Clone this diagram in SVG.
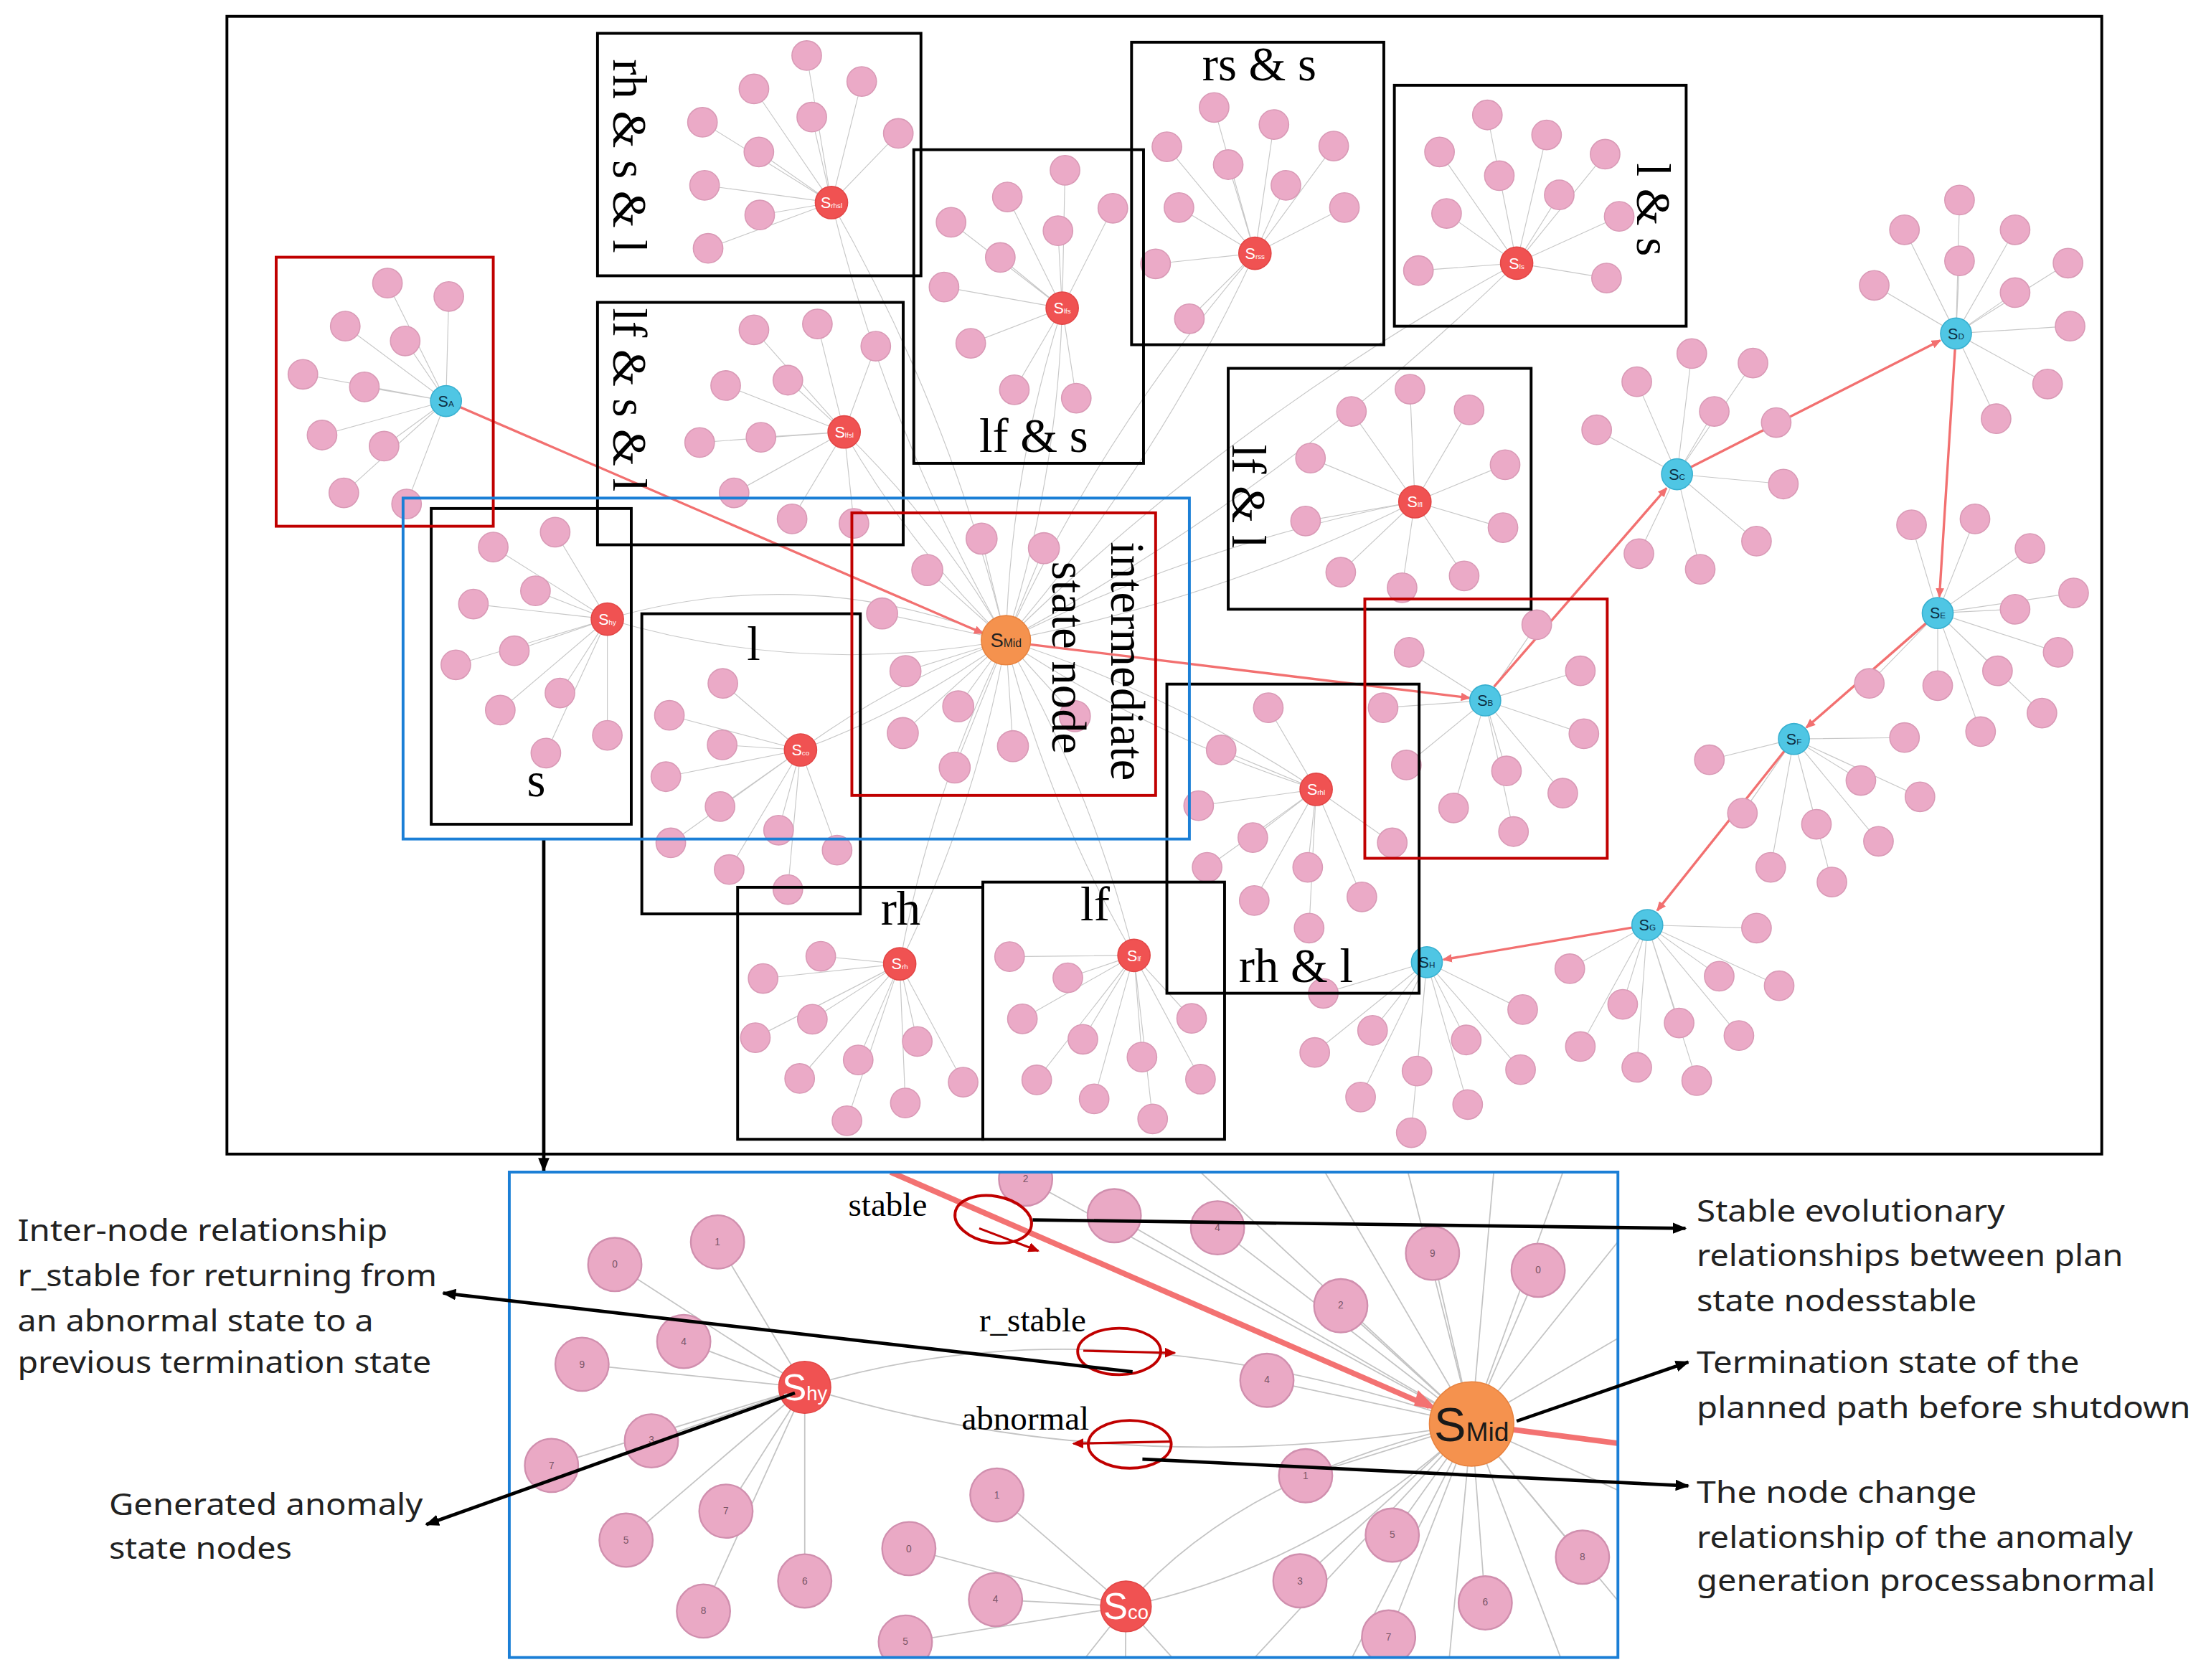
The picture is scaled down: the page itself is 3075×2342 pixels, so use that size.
<svg xmlns="http://www.w3.org/2000/svg" width="3075" height="2342" viewBox="0 0 3075 2342">
<style>
.sat{fill:#ebaac7;stroke:#d99ab6;stroke-width:0.8}
.bsat{fill:#eaa9c5;stroke:#d08fae;stroke-width:1.2}
.red{fill:#f05252;stroke:#e24646;stroke-width:0.8}
.cyan{fill:#4fc6e4;stroke:#38b0d0;stroke-width:0.8}
.org{fill:#f5924e;stroke:#e8823e;stroke-width:0.8}
.e{fill:none;stroke:#c8c8c8;stroke-width:0.6}
.be{fill:none;stroke:#c4c4c4;stroke-width:0.9}
.pth{fill:none;stroke:#f27070;stroke-width:1.7}
.bpth{fill:none;stroke:#f37272;stroke-width:4}
.box{fill:none;stroke:#000;stroke-width:2}
.rbox{fill:none;stroke:#c00000;stroke-width:2}
.bbox{fill:none;stroke:#1b7fd6;stroke-width:2}
.ell{fill:none;stroke:#c00000;stroke-width:2}
.rarr{fill:none;stroke:#c00000;stroke-width:1.6}
.ann{fill:none;stroke:#000;stroke-width:2.4}
.lab{font-family:"Liberation Serif","Times New Roman",serif;font-size:34px;fill:#000}
.elab{font-family:"Liberation Serif","Times New Roman",serif;font-size:24px;fill:#000}
.txt{font-family:"Noto Sans","Open Sans",sans-serif;font-size:21px;fill:#222}
.sl{font-family:"Liberation Sans",Arial,sans-serif;font-size:11px;fill:#fff;text-anchor:middle}
.cl{font-family:"Liberation Sans",Arial,sans-serif;font-size:11px;fill:#0d2f44;text-anchor:middle}
.num{font-family:"Liberation Sans",Arial,sans-serif;font-size:7px;fill:#7a5566;text-anchor:middle}
</style>
<defs>
<marker id="ah" markerUnits="userSpaceOnUse" markerWidth="10" markerHeight="8" refX="9" refY="4" orient="auto"><path d="M0,0 L10,4 L0,8 Z" fill="#000"/></marker>
<marker id="rh" markerUnits="userSpaceOnUse" markerWidth="7" markerHeight="6" refX="6" refY="3" orient="auto"><path d="M0,0 L7,3 L0,6 Z" fill="#f27070"/></marker>
<marker id="dr" markerUnits="userSpaceOnUse" markerWidth="8" markerHeight="7" refX="7" refY="3.5" orient="auto"><path d="M0,0 L8,3.5 L0,7 Z" fill="#c00000"/></marker>
<clipPath id="pc"><rect x="362" y="833" width="788" height="345"/></clipPath>
</defs>
<rect x="0" y="0" width="3075" height="2342" fill="#fff"/>
<g transform="scale(1.9611,1.9615)">

<g id="connectors">
<g id="star-edges">
<path class="e" d="M317 285L275.4 201.2M317 285L319 210.7M317 285L245.4 231.8M317 285L288 242.3M317 285L215.3 266M317 285L259 275M317 285L228.9 309.2M317 285L273 317.1M317 285L244.4 350.3M317 285L289 358.2"/>
<path class="e" d="M591 144L573.4 39.5M591 144L535.9 63.2M591 144L612.5 57.9M591 144L499.3 86.9M591 144L577 83.2M591 144L539.4 108M591 144L638.5 94.8M591 144L500.8 131.7M591 144L540 152.8M591 144L503.3 176.5"/>
<path class="e" d="M600 307L535.9 234.4M600 307L581 230.2M600 307L622.5 246M600 307L515.8 274M600 307L560 270.2M600 307L497.3 314.5M600 307L540.9 310.8M600 307L521.8 350.3M600 307L563 368.8M600 307L607 372"/>
<path class="e" d="M755 219L757 121M755 219L716 140M755 219L676 158M755 219L752 164M755 219L791 148M755 219L711 183M755 219L671 204M755 219L690 244M755 219L721 277M755 219L765 283"/>
<path class="e" d="M892 180L863 76.4M892 180L829.4 104.3M892 180L905.5 88.5M892 180L873 117M892 180L948 103.8M892 180L914 131.7M892 180L838 147.5M892 180L955.6 147.5M892 180L821.4 187.5M892 180L845.4 226.5"/>
<path class="e" d="M1078 187L1057.2 81.7M1078 187L1023.2 108M1078 187L1099.3 95.9M1078 187L1065.7 124.9M1078 187L1140.9 109.6M1078 187L1108.3 138.5M1078 187L1028.2 151.7M1078 187L1150.9 153.8M1078 187L1008.2 192.3M1078 187L1141.9 197.6"/>
<path class="e" d="M1005.7 356.6L1002.2 276.6M1005.7 356.6L960.6 292.4M1005.7 356.6L1044.2 291.3M1005.7 356.6L931.5 325.6M1005.7 356.6L1069.8 330.3M1005.7 356.6L928 370.3M1005.7 356.6L1068.3 375M1005.7 356.6L953 406.7M1005.7 356.6L996.6 417.7M1005.7 356.6L1040.7 409.3"/>
<path class="e" d="M431.7 440L350.6 388.8M431.7 440L394.6 378.2M431.7 440L336.5 429.3M431.7 440L380.6 419.9M431.7 440L324 472.5M431.7 440L365.6 462.5M431.7 440L355.6 504.7M431.7 440L398 492.5M431.7 440L388 535.2M431.7 440L431.7 522.6"/>
<path class="e" d="M569 533L513.8 485.7M569 533L475.8 508.4M569 533L513.3 529.4M569 533L473.3 552M569 533L511.8 573.2M569 533L476.8 599M569 533L553.4 590M569 533L595 604.2M569 533L518.3 618M569 533L560 632.2"/>
<path class="e" d="M715 455L697.7 382.8M715 455L742 389.6M715 455L659.1 405.1M715 455L627 436M715 455L643.6 477M715 455L681.1 502M715 455L641.7 521M715 455L720 530.3M715 455L678.6 545.5M715 455L764 509"/>
<path class="e" d="M639.5 685L583.4 679.6M639.5 685L542.4 695.4M639.5 685L577.4 724.4M639.5 685L536.9 737.5M639.5 685L610 753.3M639.5 685L568.4 766.5M639.5 685L652 740.2M639.5 685L684.6 769.1M639.5 685L643.5 783.9M639.5 685L602 796.5"/>
<path class="e" d="M806 679L717.6 679.9M806 679L759 694.9M806 679L726.7 724.1M806 679L769.7 738.6M806 679L847 723.8M806 679L736.9 767.5M806 679L811.7 751.3M806 679L853.3 767M806 679L777.7 781M806 679L819.3 795.2"/>
<path class="e" d="M935.5 561L901.5 503M935.5 561L868 533M935.5 561L852 572.6M935.5 561L890.5 595.3M935.5 561L858 616.4M935.5 561L891.5 640M935.5 561L929.5 616.4M935.5 561L930.5 659.6M935.5 561L968 637.4M935.5 561L989.6 599"/>
<path class="e" d="M1055.7 497.8L1092.3 444M1055.7 497.8L1001.6 463.6M1055.7 497.8L1123.3 476.8M1055.7 497.8L983.1 503M1055.7 497.8L1125.8 521.5M1055.7 497.8L999.6 543.7M1055.7 497.8L1070.8 547.9M1055.7 497.8L1110.8 563.7M1055.7 497.8L1033.2 574.2M1055.7 497.8L1075.8 591"/>
<path class="e" d="M1192 337L1202.5 251.3M1192 337L1246 258M1192 337L1163.4 271.3M1192 337L1218.5 292.4M1192 337L1134.9 305.5M1192 337L1262.5 300.3M1192 337L1267.6 344M1192 337L1248.5 384.6M1192 337L1164.9 393.5M1192 337L1208.5 404.6"/>
<path class="e" d="M1390.3 237L1392.8 142.2M1390.3 237L1353.7 163.3M1390.3 237L1432.3 163.3M1390.3 237L1392.8 185.4M1390.3 237L1469.9 187M1390.3 237L1332.2 202.8M1390.3 237L1432.3 208M1390.3 237L1471.4 231.8M1390.3 237L1455.4 272.9M1390.3 237L1418.8 297.6"/>
<path class="e" d="M1377.3 435.7L1358.7 373M1377.3 435.7L1403.8 368.8M1377.3 435.7L1442.9 389.8M1377.3 435.7L1473.9 421.4M1377.3 435.7L1432.3 433M1377.3 435.7L1462.9 463.6M1377.3 435.7L1419.8 476.8M1377.3 435.7L1377.3 487.3M1377.3 435.7L1451.4 506.8M1377.3 435.7L1407.8 520M1377.3 435.7L1328.7 485.7"/>
<path class="e" d="M1275.1 525.2L1215 540M1275.1 525.2L1353.7 524.2M1275.1 525.2L1322.7 554.7M1275.1 525.2L1364.7 566.3M1275.1 525.2L1291.1 585.8M1275.1 525.2L1335.2 597.9M1275.1 525.2L1258.6 616.4M1275.1 525.2L1302.1 626.9M1275.1 525.2L1238.5 577.9"/>
<path class="e" d="M1170.9 657.4L1248.5 659.6M1170.9 657.4L1115.8 688.5M1170.9 657.4L1222 693.8M1170.9 657.4L1264.6 700.6M1170.9 657.4L1153.4 713.8M1170.9 657.4L1193.5 727M1170.9 657.4L1236 736M1170.9 657.4L1123.3 743.8M1170.9 657.4L1163.4 758.6M1170.9 657.4L1206 768"/>
<path class="e" d="M1014.2 683.8L940.6 706M1014.2 683.8L1082.3 717.5M1014.2 683.8L975.6 732.3M1014.2 683.8L1042.2 739.1M1014.2 683.8L1080.8 760.2M1014.2 683.8L934.5 748M1014.2 683.8L1007.2 761.2M1014.2 683.8L967.1 779.7M1014.2 683.8L1043.2 785M1014.2 683.8L1003.1 805"/>
</g>
<g id="mid-edges">
<path class="e" d="M591 144Q631.2 308.2 715 455M591 144Q674.8 290.8 715 455"/>
<path class="e" d="M600 307Q647.1 389.1 715 455M600 307Q667.9 372.9 715 455"/>
<path class="e" d="M755 219Q718.5 334.2 715 455M755 219Q751.5 339.8 715 455"/>
<path class="e" d="M892 180Q784.2 305.1 715 455M892 180Q822.8 329.9 715 455"/>
<path class="e" d="M1078 187Q877.7 295.6 715 455M1078 187Q915.3 346.4 715 455"/>
<path class="e" d="M1005.7 356.6Q853.5 385.5 715 455M1005.7 356.6Q867.3 426.1 715 455"/>
<path class="e" d="M431.7 440Q571.6 481.5 715 455M431.7 440Q575.2 398.5 715 455"/>
<path class="e" d="M569 533Q647.5 504.2 715 455M569 533Q636.5 483.8 715 455"/>
<path class="e" d="M639.5 685Q693.4 575.3 715 455M639.5 685Q661.2 564.7 715 455"/>
<path class="e" d="M806 679Q776.2 560.6 715 455M806 679Q744.8 573.4 715 455"/>
<path class="e" d="M935.5 561Q832.7 492.6 715 455M935.5 561Q817.9 523.4 715 455"/>
</g>
<g id="plan-path">
<path class="pth" marker-end="url(#rh)" d="M317 285L698.5 450"/>
<path class="pth" marker-end="url(#rh)" d="M732 458L1044.5 496"/>
<path class="pth" marker-end="url(#rh)" d="M1062 488L1184.5 347"/>
<path class="pth" marker-end="url(#rh)" d="M1192 337L1379 242"/>
<path class="pth" marker-end="url(#rh)" d="M1390.3 237L1378.5 424"/>
<path class="pth" marker-end="url(#rh)" d="M1377.3 435.7L1284 517"/>
<path class="pth" marker-end="url(#rh)" d="M1275.1 525.2L1178 647"/>
<path class="pth" marker-end="url(#rh)" d="M1170.9 657.4L1026 682"/>
</g>
<path id="zoom-link" class="ann" marker-end="url(#ah)" d="M386.5 596.3L386.5 832"/>
</g>

<g id="node-Sa">
<circle class="sat" cx="275.4" cy="201.2" r="10.5"/><circle class="sat" cx="319" cy="210.7" r="10.5"/><circle class="sat" cx="245.4" cy="231.8" r="10.5"/><circle class="sat" cx="288" cy="242.3" r="10.5"/><circle class="sat" cx="215.3" cy="266" r="10.5"/><circle class="sat" cx="259" cy="275" r="10.5"/><circle class="sat" cx="228.9" cy="309.2" r="10.5"/><circle class="sat" cx="273" cy="317.1" r="10.5"/><circle class="sat" cx="244.4" cy="350.3" r="10.5"/><circle class="sat" cx="289" cy="358.2" r="10.5"/>
<circle class="cyan" cx="317" cy="285" r="11"/><text class="cl" x="317" y="289">S<tspan font-size="6">A</tspan></text>
</g>
<g id="node-Srhsl">
<circle class="sat" cx="573.4" cy="39.5" r="10.5"/><circle class="sat" cx="535.9" cy="63.2" r="10.5"/><circle class="sat" cx="612.5" cy="57.9" r="10.5"/><circle class="sat" cx="499.3" cy="86.9" r="10.5"/><circle class="sat" cx="577" cy="83.2" r="10.5"/><circle class="sat" cx="539.4" cy="108" r="10.5"/><circle class="sat" cx="638.5" cy="94.8" r="10.5"/><circle class="sat" cx="500.8" cy="131.7" r="10.5"/><circle class="sat" cx="540" cy="152.8" r="10.5"/><circle class="sat" cx="503.3" cy="176.5" r="10.5"/>
<circle class="red" cx="591" cy="144" r="11.5"/><text class="sl" x="591" y="148">S<tspan font-size="5">rhsl</tspan></text>
</g>
<g id="node-Slfsl">
<circle class="sat" cx="535.9" cy="234.4" r="10.5"/><circle class="sat" cx="581" cy="230.2" r="10.5"/><circle class="sat" cx="622.5" cy="246" r="10.5"/><circle class="sat" cx="515.8" cy="274" r="10.5"/><circle class="sat" cx="560" cy="270.2" r="10.5"/><circle class="sat" cx="497.3" cy="314.5" r="10.5"/><circle class="sat" cx="540.9" cy="310.8" r="10.5"/><circle class="sat" cx="521.8" cy="350.3" r="10.5"/><circle class="sat" cx="563" cy="368.8" r="10.5"/><circle class="sat" cx="607" cy="372" r="10.5"/>
<circle class="red" cx="600" cy="307" r="11.5"/><text class="sl" x="600" y="311">S<tspan font-size="5">lfsl</tspan></text>
</g>
<g id="node-Slfs">
<circle class="sat" cx="757" cy="121" r="10.5"/><circle class="sat" cx="716" cy="140" r="10.5"/><circle class="sat" cx="676" cy="158" r="10.5"/><circle class="sat" cx="752" cy="164" r="10.5"/><circle class="sat" cx="791" cy="148" r="10.5"/><circle class="sat" cx="711" cy="183" r="10.5"/><circle class="sat" cx="671" cy="204" r="10.5"/><circle class="sat" cx="690" cy="244" r="10.5"/><circle class="sat" cx="721" cy="277" r="10.5"/><circle class="sat" cx="765" cy="283" r="10.5"/>
<circle class="red" cx="755" cy="219" r="11.5"/><text class="sl" x="755" y="223">S<tspan font-size="5">lfs</tspan></text>
</g>
<g id="node-Srss">
<circle class="sat" cx="863" cy="76.4" r="10.5"/><circle class="sat" cx="829.4" cy="104.3" r="10.5"/><circle class="sat" cx="905.5" cy="88.5" r="10.5"/><circle class="sat" cx="873" cy="117" r="10.5"/><circle class="sat" cx="948" cy="103.8" r="10.5"/><circle class="sat" cx="914" cy="131.7" r="10.5"/><circle class="sat" cx="838" cy="147.5" r="10.5"/><circle class="sat" cx="955.6" cy="147.5" r="10.5"/><circle class="sat" cx="821.4" cy="187.5" r="10.5"/><circle class="sat" cx="845.4" cy="226.5" r="10.5"/>
<circle class="red" cx="892" cy="180" r="11.5"/><text class="sl" x="892" y="184">S<tspan font-size="5">rss</tspan></text>
</g>
<g id="node-Sls">
<circle class="sat" cx="1057.2" cy="81.7" r="10.5"/><circle class="sat" cx="1023.2" cy="108" r="10.5"/><circle class="sat" cx="1099.3" cy="95.9" r="10.5"/><circle class="sat" cx="1065.7" cy="124.9" r="10.5"/><circle class="sat" cx="1140.9" cy="109.6" r="10.5"/><circle class="sat" cx="1108.3" cy="138.5" r="10.5"/><circle class="sat" cx="1028.2" cy="151.7" r="10.5"/><circle class="sat" cx="1150.9" cy="153.8" r="10.5"/><circle class="sat" cx="1008.2" cy="192.3" r="10.5"/><circle class="sat" cx="1141.9" cy="197.6" r="10.5"/>
<circle class="red" cx="1078" cy="187" r="11.5"/><text class="sl" x="1078" y="191">S<tspan font-size="5">ls</tspan></text>
</g>
<g id="node-Slfl">
<circle class="sat" cx="1002.2" cy="276.6" r="10.5"/><circle class="sat" cx="960.6" cy="292.4" r="10.5"/><circle class="sat" cx="1044.2" cy="291.3" r="10.5"/><circle class="sat" cx="931.5" cy="325.6" r="10.5"/><circle class="sat" cx="1069.8" cy="330.3" r="10.5"/><circle class="sat" cx="928" cy="370.3" r="10.5"/><circle class="sat" cx="1068.3" cy="375" r="10.5"/><circle class="sat" cx="953" cy="406.7" r="10.5"/><circle class="sat" cx="996.6" cy="417.7" r="10.5"/><circle class="sat" cx="1040.7" cy="409.3" r="10.5"/>
<circle class="red" cx="1005.7" cy="356.6" r="11.5"/><text class="sl" x="1005.7" y="360.6">S<tspan font-size="5">lfl</tspan></text>
</g>
<g id="node-Shy">
<circle class="sat" cx="350.6" cy="388.8" r="10.5"/><circle class="sat" cx="394.6" cy="378.2" r="10.5"/><circle class="sat" cx="336.5" cy="429.3" r="10.5"/><circle class="sat" cx="380.6" cy="419.9" r="10.5"/><circle class="sat" cx="324" cy="472.5" r="10.5"/><circle class="sat" cx="365.6" cy="462.5" r="10.5"/><circle class="sat" cx="355.6" cy="504.7" r="10.5"/><circle class="sat" cx="398" cy="492.5" r="10.5"/><circle class="sat" cx="388" cy="535.2" r="10.5"/><circle class="sat" cx="431.7" cy="522.6" r="10.5"/>
<circle class="red" cx="431.7" cy="440" r="11.5"/><text class="sl" x="431.7" y="444">S<tspan font-size="5">hy</tspan></text>
</g>
<g id="node-Sco">
<circle class="sat" cx="513.8" cy="485.7" r="10.5"/><circle class="sat" cx="475.8" cy="508.4" r="10.5"/><circle class="sat" cx="513.3" cy="529.4" r="10.5"/><circle class="sat" cx="473.3" cy="552" r="10.5"/><circle class="sat" cx="511.8" cy="573.2" r="10.5"/><circle class="sat" cx="476.8" cy="599" r="10.5"/><circle class="sat" cx="553.4" cy="590" r="10.5"/><circle class="sat" cx="595" cy="604.2" r="10.5"/><circle class="sat" cx="518.3" cy="618" r="10.5"/><circle class="sat" cx="560" cy="632.2" r="10.5"/>
<circle class="red" cx="569" cy="533" r="11.5"/><text class="sl" x="569" y="537">S<tspan font-size="5">co</tspan></text>
</g>
<g id="node-SMid">
<circle class="sat" cx="697.7" cy="382.8" r="11"/><circle class="sat" cx="742" cy="389.6" r="11"/><circle class="sat" cx="659.1" cy="405.1" r="11"/><circle class="sat" cx="627" cy="436" r="11"/><circle class="sat" cx="643.6" cy="477" r="11"/><circle class="sat" cx="681.1" cy="502" r="11"/><circle class="sat" cx="641.7" cy="521" r="11"/><circle class="sat" cx="720" cy="530.3" r="11"/><circle class="sat" cx="678.6" cy="545.5" r="11"/><circle class="sat" cx="764" cy="509" r="11"/>
<circle class="org" cx="715" cy="455" r="17.5"/><text class="cl" x="715" y="460" style="font-size:14px;fill:#222">S<tspan style="font-size:8px">Mid</tspan></text>
</g>
<g id="node-Srh">
<circle class="sat" cx="583.4" cy="679.6" r="10.5"/><circle class="sat" cx="542.4" cy="695.4" r="10.5"/><circle class="sat" cx="577.4" cy="724.4" r="10.5"/><circle class="sat" cx="536.9" cy="737.5" r="10.5"/><circle class="sat" cx="610" cy="753.3" r="10.5"/><circle class="sat" cx="568.4" cy="766.5" r="10.5"/><circle class="sat" cx="652" cy="740.2" r="10.5"/><circle class="sat" cx="684.6" cy="769.1" r="10.5"/><circle class="sat" cx="643.5" cy="783.9" r="10.5"/><circle class="sat" cx="602" cy="796.5" r="10.5"/>
<circle class="red" cx="639.5" cy="685" r="11.5"/><text class="sl" x="639.5" y="689">S<tspan font-size="5">rh</tspan></text>
</g>
<g id="node-Slf">
<circle class="sat" cx="717.6" cy="679.9" r="10.5"/><circle class="sat" cx="759" cy="694.9" r="10.5"/><circle class="sat" cx="726.7" cy="724.1" r="10.5"/><circle class="sat" cx="769.7" cy="738.6" r="10.5"/><circle class="sat" cx="847" cy="723.8" r="10.5"/><circle class="sat" cx="736.9" cy="767.5" r="10.5"/><circle class="sat" cx="811.7" cy="751.3" r="10.5"/><circle class="sat" cx="853.3" cy="767" r="10.5"/><circle class="sat" cx="777.7" cy="781" r="10.5"/><circle class="sat" cx="819.3" cy="795.2" r="10.5"/>
<circle class="red" cx="806" cy="679" r="11.5"/><text class="sl" x="806" y="683">S<tspan font-size="5">lf</tspan></text>
</g>
<g id="node-Srhl">
<circle class="sat" cx="901.5" cy="503" r="10.5"/><circle class="sat" cx="868" cy="533" r="10.5"/><circle class="sat" cx="852" cy="572.6" r="10.5"/><circle class="sat" cx="890.5" cy="595.3" r="10.5"/><circle class="sat" cx="858" cy="616.4" r="10.5"/><circle class="sat" cx="891.5" cy="640" r="10.5"/><circle class="sat" cx="929.5" cy="616.4" r="10.5"/><circle class="sat" cx="930.5" cy="659.6" r="10.5"/><circle class="sat" cx="968" cy="637.4" r="10.5"/><circle class="sat" cx="989.6" cy="599" r="10.5"/>
<circle class="red" cx="935.5" cy="561" r="11.5"/><text class="sl" x="935.5" y="565">S<tspan font-size="5">rhl</tspan></text>
</g>
<g id="node-Sb">
<circle class="sat" cx="1092.3" cy="444" r="10.5"/><circle class="sat" cx="1001.6" cy="463.6" r="10.5"/><circle class="sat" cx="1123.3" cy="476.8" r="10.5"/><circle class="sat" cx="983.1" cy="503" r="10.5"/><circle class="sat" cx="1125.8" cy="521.5" r="10.5"/><circle class="sat" cx="999.6" cy="543.7" r="10.5"/><circle class="sat" cx="1070.8" cy="547.9" r="10.5"/><circle class="sat" cx="1110.8" cy="563.7" r="10.5"/><circle class="sat" cx="1033.2" cy="574.2" r="10.5"/><circle class="sat" cx="1075.8" cy="591" r="10.5"/>
<circle class="cyan" cx="1055.7" cy="497.8" r="11"/><text class="cl" x="1055.7" y="501.8">S<tspan font-size="6">B</tspan></text>
</g>
<g id="node-Sc">
<circle class="sat" cx="1202.5" cy="251.3" r="10.5"/><circle class="sat" cx="1246" cy="258" r="10.5"/><circle class="sat" cx="1163.4" cy="271.3" r="10.5"/><circle class="sat" cx="1218.5" cy="292.4" r="10.5"/><circle class="sat" cx="1134.9" cy="305.5" r="10.5"/><circle class="sat" cx="1262.5" cy="300.3" r="10.5"/><circle class="sat" cx="1267.6" cy="344" r="10.5"/><circle class="sat" cx="1248.5" cy="384.6" r="10.5"/><circle class="sat" cx="1164.9" cy="393.5" r="10.5"/><circle class="sat" cx="1208.5" cy="404.6" r="10.5"/>
<circle class="cyan" cx="1192" cy="337" r="11"/><text class="cl" x="1192" y="341">S<tspan font-size="6">C</tspan></text>
</g>
<g id="node-Sd">
<circle class="sat" cx="1392.8" cy="142.2" r="10.5"/><circle class="sat" cx="1353.7" cy="163.3" r="10.5"/><circle class="sat" cx="1432.3" cy="163.3" r="10.5"/><circle class="sat" cx="1392.8" cy="185.4" r="10.5"/><circle class="sat" cx="1469.9" cy="187" r="10.5"/><circle class="sat" cx="1332.2" cy="202.8" r="10.5"/><circle class="sat" cx="1432.3" cy="208" r="10.5"/><circle class="sat" cx="1471.4" cy="231.8" r="10.5"/><circle class="sat" cx="1455.4" cy="272.9" r="10.5"/><circle class="sat" cx="1418.8" cy="297.6" r="10.5"/>
<circle class="cyan" cx="1390.3" cy="237" r="11"/><text class="cl" x="1390.3" y="241">S<tspan font-size="6">D</tspan></text>
</g>
<g id="node-Se">
<circle class="sat" cx="1358.7" cy="373" r="10.5"/><circle class="sat" cx="1403.8" cy="368.8" r="10.5"/><circle class="sat" cx="1442.9" cy="389.8" r="10.5"/><circle class="sat" cx="1473.9" cy="421.4" r="10.5"/><circle class="sat" cx="1432.3" cy="433" r="10.5"/><circle class="sat" cx="1462.9" cy="463.6" r="10.5"/><circle class="sat" cx="1419.8" cy="476.8" r="10.5"/><circle class="sat" cx="1377.3" cy="487.3" r="10.5"/><circle class="sat" cx="1451.4" cy="506.8" r="10.5"/><circle class="sat" cx="1407.8" cy="520" r="10.5"/><circle class="sat" cx="1328.7" cy="485.7" r="10.5"/>
<circle class="cyan" cx="1377.3" cy="435.7" r="11"/><text class="cl" x="1377.3" y="439.7">S<tspan font-size="6">E</tspan></text>
</g>
<g id="node-Sf">
<circle class="sat" cx="1215" cy="540" r="10.5"/><circle class="sat" cx="1353.7" cy="524.2" r="10.5"/><circle class="sat" cx="1322.7" cy="554.7" r="10.5"/><circle class="sat" cx="1364.7" cy="566.3" r="10.5"/><circle class="sat" cx="1291.1" cy="585.8" r="10.5"/><circle class="sat" cx="1335.2" cy="597.9" r="10.5"/><circle class="sat" cx="1258.6" cy="616.4" r="10.5"/><circle class="sat" cx="1302.1" cy="626.9" r="10.5"/><circle class="sat" cx="1238.5" cy="577.9" r="10.5"/>
<circle class="cyan" cx="1275.1" cy="525.2" r="11"/><text class="cl" x="1275.1" y="529.2">S<tspan font-size="6">F</tspan></text>
</g>
<g id="node-Sg">
<circle class="sat" cx="1248.5" cy="659.6" r="10.5"/><circle class="sat" cx="1115.8" cy="688.5" r="10.5"/><circle class="sat" cx="1222" cy="693.8" r="10.5"/><circle class="sat" cx="1264.6" cy="700.6" r="10.5"/><circle class="sat" cx="1153.4" cy="713.8" r="10.5"/><circle class="sat" cx="1193.5" cy="727" r="10.5"/><circle class="sat" cx="1236" cy="736" r="10.5"/><circle class="sat" cx="1123.3" cy="743.8" r="10.5"/><circle class="sat" cx="1163.4" cy="758.6" r="10.5"/><circle class="sat" cx="1206" cy="768" r="10.5"/>
<circle class="cyan" cx="1170.9" cy="657.4" r="11"/><text class="cl" x="1170.9" y="661.4">S<tspan font-size="6">G</tspan></text>
</g>
<g id="node-Sh">
<circle class="sat" cx="940.6" cy="706" r="10.5"/><circle class="sat" cx="1082.3" cy="717.5" r="10.5"/><circle class="sat" cx="975.6" cy="732.3" r="10.5"/><circle class="sat" cx="1042.2" cy="739.1" r="10.5"/><circle class="sat" cx="1080.8" cy="760.2" r="10.5"/><circle class="sat" cx="934.5" cy="748" r="10.5"/><circle class="sat" cx="1007.2" cy="761.2" r="10.5"/><circle class="sat" cx="967.1" cy="779.7" r="10.5"/><circle class="sat" cx="1043.2" cy="785" r="10.5"/><circle class="sat" cx="1003.1" cy="805" r="10.5"/>
<circle class="cyan" cx="1014.2" cy="683.8" r="11"/><text class="cl" x="1014.2" y="687.8">S<tspan font-size="6">H</tspan></text>
</g>

<g id="frames">
<rect class="box" x="161.3" y="11.6" width="1332.6" height="808.6"/>
<rect class="box" x="424.7" y="23.7" width="229.9" height="172.3"/>
<rect class="box" x="424.7" y="214.9" width="217.3" height="172.3"/>
<rect class="box" x="649.5" y="106.4" width="163.3" height="222.9"/>
<rect class="box" x="804.3" y="30" width="179.3" height="215"/>
<rect class="box" x="991.1" y="60.6" width="207.4" height="171.2"/>
<rect class="box" x="873" y="261.8" width="215.3" height="171.2"/>
<rect class="box" x="306.5" y="361.4" width="142.2" height="224.4"/>
<rect class="box" x="456.2" y="436.2" width="155.3" height="213.3"/>
<rect class="box" x="524.3" y="630.6" width="174.3" height="179.1"/>
<rect class="box" x="698.6" y="626.9" width="171.8" height="182.8"/>
<rect class="box" x="829.4" y="486.2" width="179.3" height="219.7"/>
<rect class="rbox" x="196.3" y="182.8" width="154.3" height="191.2"/>
<rect class="rbox" x="605.5" y="364.5" width="215.9" height="200.8"/>
<rect class="rbox" x="970.1" y="425.7" width="172.3" height="184.3"/>
<rect class="bbox" x="286.5" y="354" width="558.9" height="242.3"/>
</g>
<g id="frame-labels">
<text class="lab" transform="translate(436,42) rotate(90)">rh &amp; s &amp; l</text>
<text class="lab" transform="translate(436,219) rotate(90)">lf &amp; s &amp; l</text>
<text class="lab" x="696" y="321">lf &amp; s</text>
<text class="lab" x="854.5" y="57">rs &amp; s</text>
<text class="lab" transform="translate(1163.5,116) rotate(90)">l &amp; s</text>
<text class="lab" transform="translate(876,316) rotate(90)">lf &amp; l</text>
<text class="lab" x="374.5" y="566">s</text>
<text class="lab" x="531" y="469">l</text>
<text class="lab" x="626" y="657">rh</text>
<text class="lab" x="768" y="654">lf</text>
<text class="lab" x="880.5" y="698">rh &amp; l</text>
<text class="lab" transform="translate(790,385) rotate(90)">intermediate</text>
<text class="lab" transform="translate(748,399) rotate(90)">state node</text>
</g>

<g id="zoom-panel">
<rect x="362" y="833" width="788" height="345" fill="#fff"/>
<g clip-path="url(#pc)">
<g id="panel-edges">
<path class="be" d="M572 986L437 898.7M572 986L510 882.7M572 986L486 953.4M572 986L413.7 969.6M572 986L463 1024M572 986L392 1041.5M572 986L516 1074M572 986L445 1094.6M572 986L572 1123.6M572 986L500 1145"/>
<path class="be" d="M800.3 1141.7L708.6 1062.5M800.3 1141.7L646 1100.6M800.3 1141.7L707.6 1136.8M800.3 1141.7L643.5 1167M800.3 1141.7L770 1180M800.3 1141.7L800 1180M800.3 1141.7L835 1180"/>
<path class="be" d="M1046 1012L729 838M1046 1012L792 864M1046 1012L865.4 872.6M1046 1012L1018.2 890.7M1046 1012L1093.3 902.8M1046 1012L953 928M1046 1012L900.5 981M1046 1012L928 1048.8M1046 1012L989.6 1091M1046 1012L924 1123.5M1046 1012L987 1163.4M1046 1012L1055.7 1139.2M1046 1012L1124.8 1106.7"/>
<path class="be" d="M1046 1012L850 830M1046 1012L940 830M1046 1012L1000 830M1046 1012L1062 830M1046 1012L1112 830M1046 1012L1152 880M1046 1012L1152 950M1046 1012L1152 1060M1046 1012L1152 1140M1046 1012L1110 1180M1046 1012L1030 1180M1046 1012L960 1180M1046 1012L890 1180"/>
<path class="be" d="M572 986Q781 921 1046 1012M572 986Q797 1055 1046 1012M800.3 1141.7Q883 1047 1046 1012M800.3 1141.7Q937 1113 1046 1012"/>
</g>
<path class="bpth" d="M633 833L1016 999.5"/>
<path d="M1008 988 L1022 1002 L1005 999 Z" fill="#f37272"/>
<path class="bpth" d="M1075 1016L1152 1026"/>
<g id="panel-nodes">
<circle class="bsat" cx="729" cy="838" r="19"/><text class="num" x="729" y="840">2</text>
<circle class="bsat" cx="792" cy="864" r="19"/>
<circle class="bsat" cx="865.4" cy="872.6" r="19"/><text class="num" x="865.4" y="875">4</text>
<circle class="bsat" cx="1018.2" cy="890.7" r="19"/><text class="num" x="1018.2" y="893">9</text>
<circle class="bsat" cx="1093.3" cy="902.8" r="19"/><text class="num" x="1093.3" y="905">0</text>
<circle class="bsat" cx="953" cy="928" r="19"/><text class="num" x="953" y="930">2</text>
<circle class="bsat" cx="900.5" cy="981" r="19"/><text class="num" x="900.5" y="983">4</text>
<circle class="bsat" cx="928" cy="1048.8" r="19"/><text class="num" x="928" y="1051">1</text>
<circle class="bsat" cx="989.6" cy="1091" r="19"/><text class="num" x="989.6" y="1093">5</text>
<circle class="bsat" cx="924" cy="1123.5" r="19"/><text class="num" x="924" y="1126">3</text>
<circle class="bsat" cx="987" cy="1163.4" r="19"/><text class="num" x="987" y="1166">7</text>
<circle class="bsat" cx="1055.7" cy="1139.2" r="19"/><text class="num" x="1055.7" y="1141">6</text>
<circle class="bsat" cx="1124.8" cy="1106.7" r="19"/><text class="num" x="1124.8" y="1109">8</text>
<circle class="bsat" cx="437" cy="898.7" r="19"/><text class="num" x="437" y="901">0</text>
<circle class="bsat" cx="510" cy="882.7" r="19"/><text class="num" x="510" y="885">1</text>
<circle class="bsat" cx="486" cy="953.4" r="19"/><text class="num" x="486" y="956">4</text>
<circle class="bsat" cx="413.7" cy="969.6" r="19"/><text class="num" x="413.7" y="972">9</text>
<circle class="bsat" cx="463" cy="1024" r="19"/><text class="num" x="463" y="1026">3</text>
<circle class="bsat" cx="392" cy="1041.5" r="19"/><text class="num" x="392" y="1044">7</text>
<circle class="bsat" cx="516" cy="1074" r="19"/><text class="num" x="516" y="1076">7</text>
<circle class="bsat" cx="445" cy="1094.6" r="19"/><text class="num" x="445" y="1097">5</text>
<circle class="bsat" cx="572" cy="1123.6" r="19"/><text class="num" x="572" y="1126">6</text>
<circle class="bsat" cx="500" cy="1145" r="19"/><text class="num" x="500" y="1147">8</text>
<circle class="bsat" cx="708.6" cy="1062.5" r="19"/><text class="num" x="708.6" y="1065">1</text>
<circle class="bsat" cx="646" cy="1100.6" r="19"/><text class="num" x="646" y="1103">0</text>
<circle class="bsat" cx="707.6" cy="1136.8" r="19"/><text class="num" x="707.6" y="1139">4</text>
<circle class="bsat" cx="643.5" cy="1167" r="19"/><text class="num" x="643.5" y="1169">5</text>
<circle class="red" cx="572" cy="986" r="18.5"/><text class="sl" x="572" y="995" style="font-size:26px">S<tspan style="font-size:14px">hy</tspan></text>
<circle class="red" cx="800.3" cy="1141.7" r="18"/><text class="sl" x="800.3" y="1150.5" style="font-size:26px">S<tspan style="font-size:14px">co</tspan></text>
<circle class="org" cx="1046" cy="1012" r="30"/><text class="cl" x="1046" y="1024" style="font-size:34px;fill:#1a1a1a">S<tspan style="font-size:19px">Mid</tspan></text>
</g>
</g>
<rect class="bbox" x="362" y="833" width="788" height="345"/>
<ellipse class="ell" cx="706" cy="866.6" rx="27.5" ry="16.5" transform="rotate(10 706 866.6)"/>
<path class="rarr" marker-end="url(#dr)" d="M696 873L738 889"/>
<ellipse class="ell" cx="795.5" cy="960.5" rx="29.5" ry="16.5"/>
<path class="rarr" marker-end="url(#dr)" d="M770 960L835 961.5"/>
<ellipse class="ell" cx="803" cy="1026.5" rx="29.5" ry="17"/>
<path class="rarr" marker-end="url(#dr)" d="M832 1024.5L763 1026"/>
<text class="elab" x="603" y="864">stable</text>
<text class="elab" x="696" y="946">r_stable</text>
<text class="elab" x="683.5" y="1016">abnormal</text>
</g>

<g id="annotation-arrows">
<path class="ann" marker-end="url(#ah)" d="M734 867L1198 873"/>
<path class="ann" marker-end="url(#ah)" d="M805 975L315 919"/>
<path class="ann" marker-end="url(#ah)" d="M565 990L303 1083.5"/>
<path class="ann" marker-end="url(#ah)" d="M1078 1010L1200 968"/>
<path class="ann" marker-end="url(#ah)" d="M812 1037L1200 1056"/>
</g>
<g id="annotation-texts">
<text class="txt" x="1206" y="868" textLength="219" lengthAdjust="spacingAndGlyphs">Stable evolutionary</text>
<text class="txt" x="1206" y="900" textLength="303" lengthAdjust="spacingAndGlyphs">relationships between plan</text>
<text class="txt" x="1206" y="932" textLength="199" lengthAdjust="spacingAndGlyphs">state nodesstable</text>
<text class="txt" x="1206" y="976" textLength="272" lengthAdjust="spacingAndGlyphs">Termination state of the</text>
<text class="txt" x="1206" y="1008" textLength="351" lengthAdjust="spacingAndGlyphs">planned path before shutdown</text>
<text class="txt" x="1206" y="1068" textLength="199" lengthAdjust="spacingAndGlyphs">The node change</text>
<text class="txt" x="1206" y="1100" textLength="310" lengthAdjust="spacingAndGlyphs">relationship of the anomaly</text>
<text class="txt" x="1206" y="1131" textLength="326" lengthAdjust="spacingAndGlyphs">generation processabnormal</text>
<text class="txt" x="12.5" y="882" textLength="263" lengthAdjust="spacingAndGlyphs">Inter-node relationship</text>
<text class="txt" x="12.5" y="914" textLength="298" lengthAdjust="spacingAndGlyphs">r_stable for returning from</text>
<text class="txt" x="12.5" y="946" textLength="253" lengthAdjust="spacingAndGlyphs">an abnormal state to a</text>
<text class="txt" x="12.5" y="976" textLength="294" lengthAdjust="spacingAndGlyphs">previous termination state</text>
<text class="txt" x="77.5" y="1076.5" textLength="223" lengthAdjust="spacingAndGlyphs">Generated anomaly</text>
<text class="txt" x="77.5" y="1108" textLength="130" lengthAdjust="spacingAndGlyphs">state nodes</text>
</g>
</g>
</svg>
